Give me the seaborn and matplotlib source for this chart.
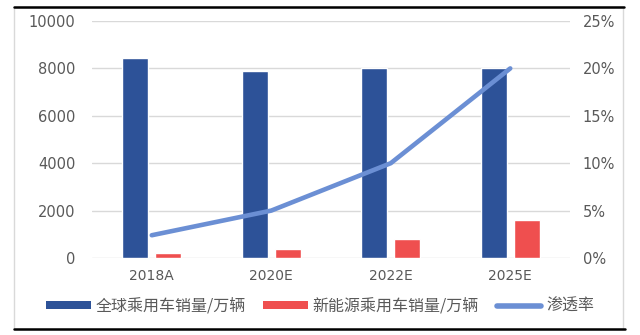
import matplotlib
matplotlib.use("Agg")
import matplotlib.pyplot as plt
from matplotlib.ticker import PercentFormatter, MultipleLocator
from matplotlib.patches import Rectangle, Patch
from matplotlib.lines import Line2D
import seaborn as sns
import pandas as pd

# Data
years = ["2018A", "2020E", "2022E", "2025E"]
global_sales = [8420, 7900, 8000, 8000]        # 全球乘用车销量/万辆
nev_sales = [210, 400, 820, 1620]               # 新能源乘用车销量/万辆
penetration = [2.4, 5.0, 10.0, 20.0]            # 渗透率 (%)

label_global = "全球乘用车销量/万辆"
label_nev = "新能源乘用车销量/万辆"
label_rate = "渗透率"

sns.set_theme(style="white")
plt.rcParams["font.family"] = ["Noto Sans CJK SC", "DejaVu Sans"]

c_blue = "#2D5298"
c_red = "#EF4F4F"
c_line = "#6B8FD4"
c_text = "#595959"
c_grid = "#D9D9D9"

df = pd.DataFrame({
    "year": years * 2,
    "value": global_sales + nev_sales,
    "series": [label_global] * len(years) + [label_nev] * len(years),
})

fig = plt.figure(figsize=(6.4, 3.35), dpi=100)
ax = fig.add_axes([92 / 640, 1 - 258 / 335, 478 / 640, 237 / 335])

sns.barplot(data=df, x="year", y="value", hue="series",
            palette=[c_blue, c_red], width=0.55, gap=0.2,
            saturation=1, legend=False, ax=ax, zorder=2)

ax.set_xlim(-0.5, len(years) - 0.5)
ax.set_ylim(0, 10000)
ax.yaxis.set_major_locator(MultipleLocator(2000))
ax.grid(axis="y", color=c_grid, linewidth=1, zorder=0)
ax.set_axisbelow(True)
ax.set_xlabel("")
ax.set_ylabel("")
for s in ax.spines.values():
    s.set_visible(False)
ax.tick_params(axis="y", length=0, pad=12, labelsize=10.5, labelcolor=c_text)
ax.tick_params(axis="x", length=0, pad=8, labelsize=10, labelcolor=c_text)
for lab in ax.get_yticklabels() + ax.get_xticklabels():
    lab.set_family("DejaVu Sans")

# Penetration rate on secondary axis
ax2 = ax.twinx()
sns.lineplot(x=years, y=penetration, ax=ax2, color=c_line, linewidth=3.3,
             sort=False, legend=False, zorder=3)
ax2.set_ylim(0, 25)
ax2.yaxis.set_major_locator(MultipleLocator(5))
ax2.yaxis.set_major_formatter(PercentFormatter(xmax=100, decimals=0))
ax2.grid(False)
for s in ax2.spines.values():
    s.set_visible(False)
ax2.tick_params(axis="y", length=0, pad=9, labelsize=10.5, labelcolor=c_text)
for lab in ax2.get_yticklabels():
    lab.set_family("DejaVu Sans")
ax2.set_ylabel("")

# Legend below the plot
handles = [
    Patch(facecolor=c_blue, edgecolor="none", label=label_global),
    Patch(facecolor=c_red, edgecolor="none", label=label_nev),
    Line2D([0], [0], color=c_line, linewidth=4, label=label_rate),
]
leg = fig.legend(handles=handles, loc="center", bbox_to_anchor=(0.5, 1 - 306 / 335),
                 ncol=3, frameon=False, fontsize=11.5, handlelength=2.8,
                 handleheight=0.4, handletextpad=0.3, columnspacing=1.1)
for t in leg.get_texts():
    t.set_color(c_text)

# Chart frame and rules
fig.patches.append(Rectangle((14 / 640, 1 - 329 / 335), 609 / 640, 322 / 335,
                             transform=fig.transFigure, fill=False,
                             edgecolor=c_grid, linewidth=1, zorder=0))
fig.add_artist(Line2D([14 / 640, 624 / 640], [1 - 7 / 335, 1 - 7 / 335],
                      transform=fig.transFigure, color="black", linewidth=1.8))
fig.add_artist(Line2D([14 / 640, 625 / 640], [1 - 329 / 335, 1 - 329 / 335],
                      transform=fig.transFigure, color="black", linewidth=1.8))

fig.savefig("out.png", dpi=100)
